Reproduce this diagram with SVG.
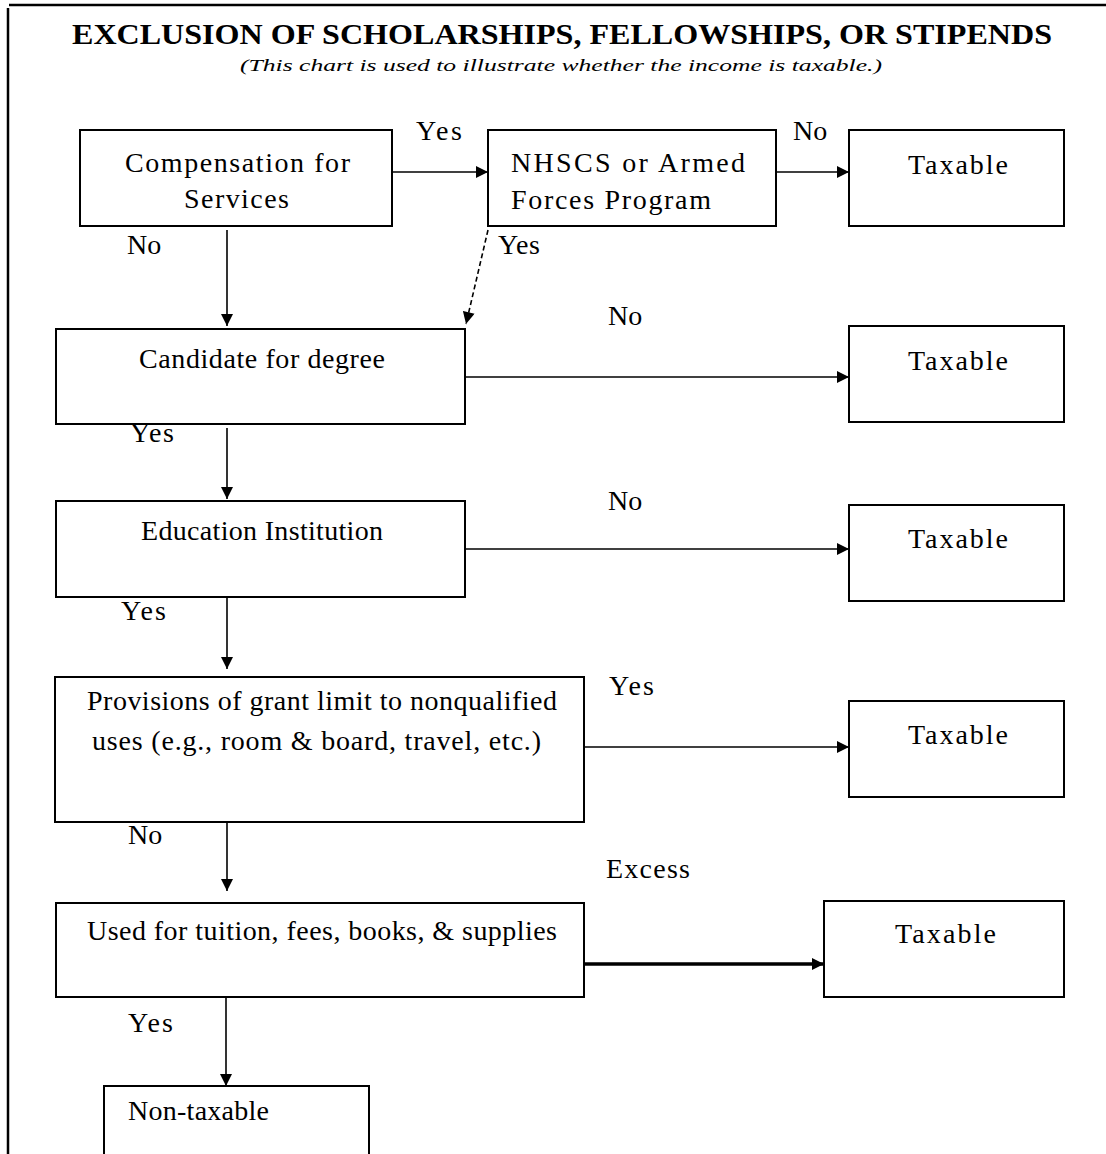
<svg xmlns="http://www.w3.org/2000/svg" width="1106" height="1154" viewBox="0 0 1106 1154">
<style>
.box{fill:#fff;stroke:#000;stroke-width:2}
.t{font-family:"Liberation Serif","Times New Roman",serif;font-size:28px;fill:#000}
.lbl{font-family:"Liberation Serif","Times New Roman",serif;font-size:28px;fill:#000}
.c{stroke:#000;stroke-width:1.6;fill:none}
</style>
<defs>
<marker id="ah" viewBox="0 0 10 10" refX="10" refY="5" markerWidth="13" markerHeight="12" markerUnits="userSpaceOnUse" orient="auto">
<path d="M0,0 L10,5 L0,10 Z" fill="#000"/>
</marker>
</defs>
<rect width="1106" height="1154" fill="#fff"/>
<g id="page-border">
<line x1="9" y1="5" x2="1106" y2="5" stroke="#000" stroke-width="2.5"/>
<line x1="8" y1="8" x2="8" y2="1154" stroke="#000" stroke-width="2.5"/>
</g>
<g id="title">
<text x="72" y="44" font-family="Liberation Serif,serif" font-size="30" font-weight="bold" textLength="980" lengthAdjust="spacingAndGlyphs">EXCLUSION OF SCHOLARSHIPS, FELLOWSHIPS, OR STIPENDS</text>
<text x="240" y="71" font-family="Liberation Serif,serif" font-size="17" font-style="italic" textLength="642" lengthAdjust="spacingAndGlyphs">(This chart is used to illustrate whether the income is taxable.)</text>
</g>
<g id="labels">
<text class="lbl" x="416" y="140" textLength="46">Yes</text>
<text class="lbl" x="793" y="140">No</text>
<text class="lbl" x="127" y="254">No</text>
<text class="lbl" x="498" y="254" textLength="42">Yes</text>
<text class="lbl" x="608" y="325">No</text>
<text class="lbl" x="130" y="442" textLength="44">Yes</text>
<text class="lbl" x="608" y="510">No</text>
<text class="lbl" x="121" y="620" textLength="45">Yes</text>
<text class="lbl" x="609" y="695" textLength="45">Yes</text>
<text class="lbl" x="128" y="844">No</text>
<text class="lbl" x="606" y="878" textLength="84">Excess</text>
<text class="lbl" x="128" y="1032" textLength="45">Yes</text>
</g>
<g id="connectors">
<line class="c" x1="392" y1="172" x2="488" y2="172" marker-end="url(#ah)"/>
<line class="c" x1="776" y1="172" x2="849" y2="172" marker-end="url(#ah)"/>
<line class="c" x1="227" y1="230" x2="227" y2="326" marker-end="url(#ah)"/>
<line class="c" x1="488" y1="230" x2="466" y2="324" stroke-dasharray="5,3" marker-end="url(#ah)"/>
<line class="c" x1="465" y1="377" x2="849" y2="377" marker-end="url(#ah)"/>
<line class="c" x1="227" y1="428" x2="227" y2="499" marker-end="url(#ah)"/>
<line class="c" x1="465" y1="549" x2="849" y2="549" marker-end="url(#ah)"/>
<line class="c" x1="227" y1="597" x2="227" y2="669" marker-end="url(#ah)"/>
<line class="c" x1="584" y1="747" x2="849" y2="747" marker-end="url(#ah)"/>
<line class="c" x1="227" y1="822" x2="227" y2="891" marker-end="url(#ah)"/>
<line x1="584" y1="964" x2="824" y2="964" stroke="#000" stroke-width="3.5" marker-end="url(#ah)"/>
<line class="c" x1="226" y1="993" x2="226" y2="1086" marker-end="url(#ah)"/>
</g>
<g id="compensation">
<rect class="box" x="80" y="130" width="312" height="96"/>
<text class="t" x="125" y="172" textLength="225">Compensation for</text>
<text class="t" x="184" y="208" textLength="105">Services</text>
</g>
<g id="nhscs">
<rect class="box" x="488" y="130" width="288" height="96"/>
<text class="t" x="511" y="172" textLength="234">NHSCS or Armed</text>
<text class="t" x="511" y="209" textLength="200">Forces Program</text>
</g>
<g id="taxable1">
<rect class="box" x="849" y="130" width="215" height="96"/>
<text class="t" x="908" y="174" textLength="100">Taxable</text>
</g>
<g id="candidate">
<rect class="box" x="56" y="329" width="409" height="95"/>
<text class="t" x="139" y="368" textLength="246">Candidate for degree</text>
</g>
<g id="taxable2">
<rect class="box" x="849" y="326" width="215" height="96"/>
<text class="t" x="908" y="370" textLength="100">Taxable</text>
</g>
<g id="education">
<rect class="box" x="56" y="501" width="409" height="96"/>
<text class="t" x="141" y="540" textLength="242">Education Institution</text>
</g>
<g id="taxable3">
<rect class="box" x="849" y="505" width="215" height="96"/>
<text class="t" x="908" y="548" textLength="100">Taxable</text>
</g>
<g id="provisions">
<rect class="box" x="55" y="677" width="529" height="145"/>
<text class="t" x="87" y="710" textLength="470">Provisions of grant limit to nonqualified</text>
<text class="t" x="92" y="750" textLength="449">uses (e.g., room &amp; board, travel, etc.)</text>
</g>
<g id="taxable4">
<rect class="box" x="849" y="701" width="215" height="96"/>
<text class="t" x="908" y="744" textLength="100">Taxable</text>
</g>
<g id="used">
<rect class="box" x="56" y="903" width="528" height="94"/>
<text class="t" x="87" y="940" textLength="470">Used for tuition, fees, books, &amp; supplies</text>
</g>
<g id="taxable5">
<rect class="box" x="824" y="901" width="240" height="96"/>
<text class="t" x="895" y="943" textLength="101">Taxable</text>
</g>
<g id="nontaxable">
<rect class="box" x="104" y="1086" width="265" height="90"/>
<text class="t" x="128" y="1120" textLength="141">Non-taxable</text>
</g>
</svg>
